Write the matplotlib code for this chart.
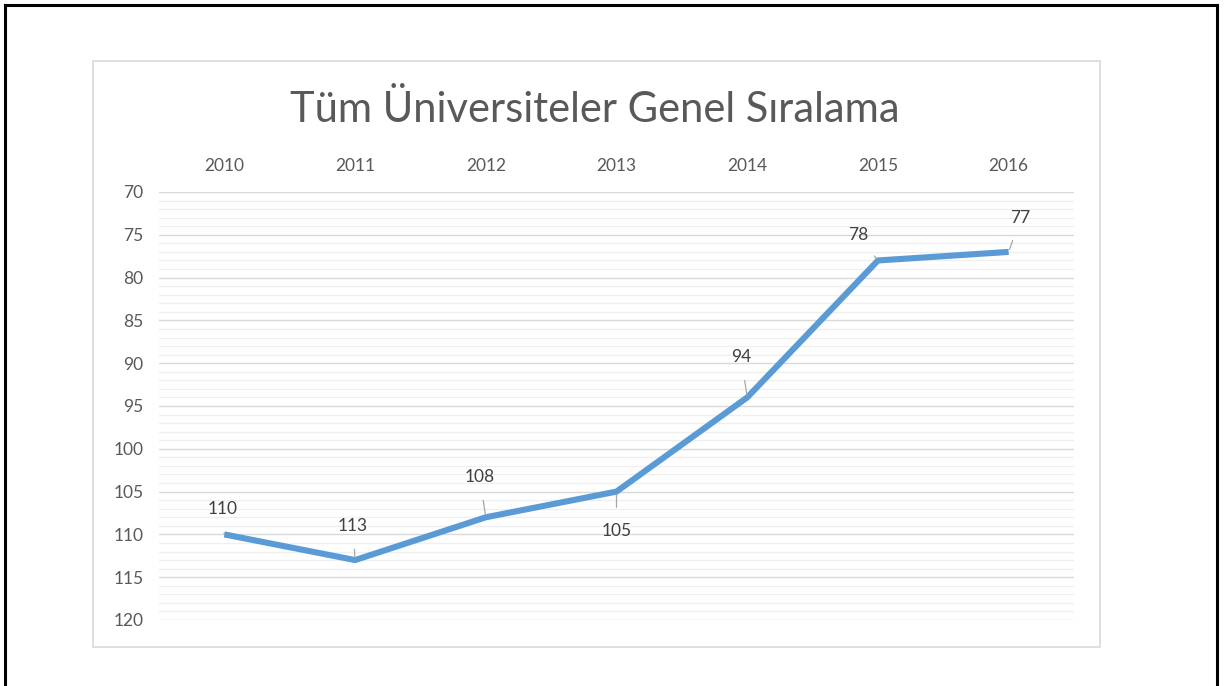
import matplotlib
matplotlib.use("Agg")
import matplotlib.pyplot as plt
from matplotlib.patches import Rectangle
from matplotlib.lines import Line2D
from matplotlib.ticker import MultipleLocator

years = ["2010", "2011", "2012", "2013", "2014", "2015", "2016"]
ranks = [110, 113, 108, 105, 94, 78, 77]
y_ticks = [70, 75, 80, 85, 90, 95, 100, 105, 110, 115, 120]
title = "Tüm Üniversiteler Genel Sıralama"

# label offsets in pixels (dx, dy) relative to each point
label_offsets = [(-2, 25), (-2, 34), (-6, 40), (0, -39), (-6, 40), (-20, 25), (12, 34)]

plt.rcParams['font.family'] = ['Lato', 'DejaVu Sans']

W, H = 1224, 686
fig = plt.figure(figsize=(W / 100, H / 100), dpi=100)
fig.patch.set_facecolor("white")

# outer black border (left, top, right)
fig.add_artist(Line2D([5 / W, 5 / W], [0, 1 - 5 / H], color="black", lw=2.2, transform=fig.transFigure))
fig.add_artist(Line2D([5 / W, 1217 / W], [1 - 5 / H, 1 - 5 / H], color="black", lw=2.2, transform=fig.transFigure))
fig.add_artist(Line2D([1217 / W, 1217 / W], [0, 1 - 5 / H], color="black", lw=2.2, transform=fig.transFigure))

# chart frame
fig.add_artist(Rectangle((93 / W, 1 - 647 / H), (1100 - 93) / W, (647 - 61) / H,
                         transform=fig.transFigure, fill=False, ec="#d9d9d9", lw=1.2))

ax = fig.add_axes([159 / W, 1 - 620 / H, (1074 - 159) / W, (620 - 192) / H])
x = list(range(len(years)))
ax.plot(x, ranks, color="#5B9BD5", lw=4.4, solid_capstyle="butt", solid_joinstyle="miter", zorder=3)

ax.set_xlim(-0.5, len(years) - 0.5)
ax.set_ylim(120, 70)
ax.set_yticks(y_ticks)
ax.yaxis.set_minor_locator(MultipleLocator(1))
ax.grid(axis="y", which="major", color="#d9d9d9", lw=1.0)
ax.grid(axis="y", which="minor", color="#efefef", lw=0.9)
ax.set_axisbelow(True)

ax.set_xticks(x)
ax.set_xticklabels(years)
ax.xaxis.tick_top()
ax.tick_params(axis="x", which="both", length=0, pad=13, labelsize=12.5, labelcolor="#595959")
ax.tick_params(axis="y", which="both", length=0, pad=11, labelsize=12.5, labelcolor="#595959")
for s in ax.spines.values():
    s.set_visible(False)

for xi, v, (dx, dy) in zip(x, ranks, label_offsets):
    ax.annotate(str(v), xy=(xi, v), xytext=(dx, dy), textcoords="offset pixels",
                ha="center", va="center", fontsize=12.5, color="#404040",
                arrowprops=dict(arrowstyle="-", color="#a6a6a6", lw=0.9, shrinkA=9, shrinkB=2))

fig.text(595 / W, 1 - 110 / H, title, ha="center", va="center", fontsize=30, color="#595959")

fig.savefig("out.png", dpi=100)
